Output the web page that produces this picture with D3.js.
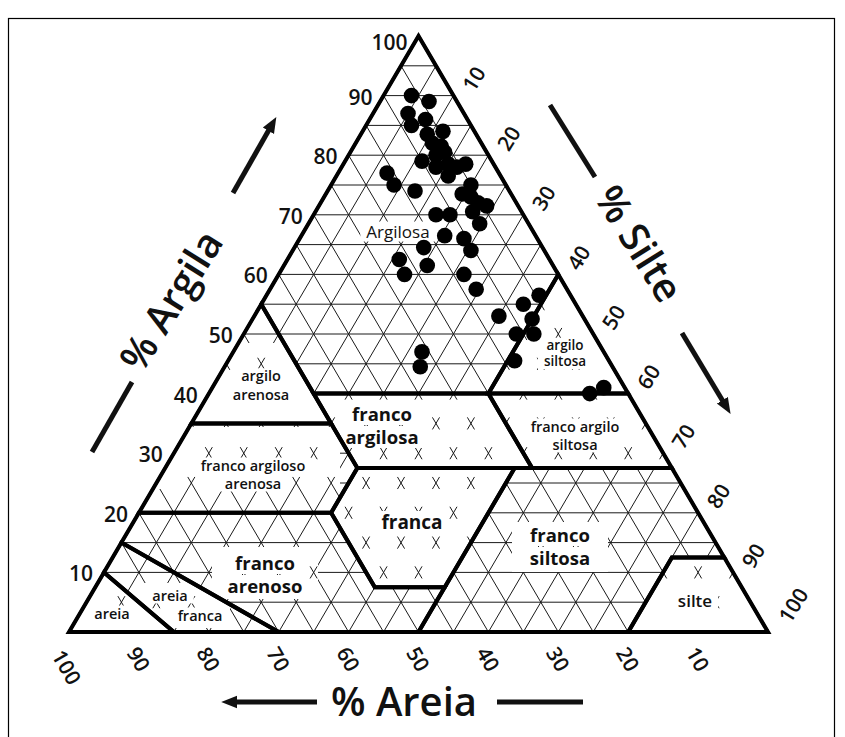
<!DOCTYPE html>
<html>
<head>
<meta charset="utf-8">
<script src="https://cdn.jsdelivr.net/npm/d3@7"></script>
<style>
  body { margin: 0; background: #fff; }
  svg { display: block; font-family: "Open Sans", "DejaVu Sans", sans-serif; }
</style>
</head>
<body>
<script>
// axis ticks (same for the three sides)
const ticks = [10, 20, 30, 40, 50, 60, 70, 80, 90, 100]

// soil samples
const sampleClay = [90, 89, 87, 86, 85, 83.5, 84, 82, 81.5, 80.5, 80, 79, 78, 78.5, 78, 78.5, 76.5, 77, 75, 74,
  75, 73.5, 73, 72, 71.5, 70.5, 68.5, 70, 70, 66.5, 66, 64, 64.5, 62.5, 61.5, 60, 60, 57.5, 56.5, 55,
  53, 52.5, 50, 50, 45.5, 47, 44.5, 40, 41]
const sampleSilt = [4, 7, 5, 8, 6.5, 9.5, 11.5, 11, 12.5, 13.5, 12.5, 11, 13.5, 15, 16.5, 17.5, 16, 7, 9, 12.5,
  20, 19.5, 21, 22.5, 24, 22.5, 24.5, 17.5, 19.5, 20.5, 23.5, 25.5, 18.5, 16, 20.5, 18, 26.5, 29.5, 39, 37.5,
  35, 40, 39, 41.5, 41, 27, 28, 54.5, 56]

// texture classes: polygon vertices as [clay, silt]
const classNames = ['argilosa', 'argilo arenosa', 'franco argiloso arenosa', 'franco argilosa', 'argilo siltosa',
  'franco argilo siltosa', 'franca', 'franco siltosa', 'silte', 'franco arenoso', 'areia franca', 'areia']
const classPolygons = [
  [[100, 0], [55, 0], [40, 15], [40, 40], [60, 40]],
  [[55, 0], [35, 0], [35, 20]],
  [[35, 0], [20, 0], [20, 27.5], [27.5, 27.5], [35, 20]],
  [[40, 15], [35, 20], [27.5, 27.5], [27.5, 52.5], [40, 40]],
  [[60, 40], [40, 40], [40, 60]],
  [[40, 40], [27.5, 52.5], [27.5, 72.5], [40, 60]],
  [[27.5, 27.5], [20, 27.5], [7.5, 40], [7.5, 50], [27.5, 50]],
  [[27.5, 50], [0, 50], [0, 80], [12.5, 80], [12.5, 87.5], [27.5, 72.5]],
  [[12.5, 80], [0, 80], [0, 100], [12.5, 87.5]],
  [[20, 0], [20, 27.5], [7.5, 40], [7.5, 50], [0, 50], [0, 30], [15, 0]],
  [[15, 0], [10, 0], [0, 15], [0, 30]],
  [[10, 0], [0, 0], [0, 15]]
]

const W = 845, H = 737
const svg = d3.select('body').append('svg').attr('width', W).attr('height', H)

const x = d3.scaleLinear().domain([0, 100]).range([69, 768])
const y = d3.scaleLinear().domain([0, 100]).range([632, 36])
const P = (c, s) => [x(s + c / 2), y(c)]
const line = d3.line()

// frame
svg.append('rect').attr('x', 8.5).attr('y', 18.5).attr('width', 826).attr('height', 740)
  .attr('fill', 'none').attr('stroke', '#000').attr('stroke-width', 1.2)

// fine grid, 5 %
const grid = svg.append('g').attr('stroke', '#1a1a1a').attr('stroke-width', 1)
for (let k = 5; k < 100; k += 5) {
  grid.append('path').attr('d', line([P(k, 0), P(k, 100 - k)]))
  grid.append('path').attr('d', line([P(0, k), P(100 - k, k)]))
  grid.append('path').attr('d', line([P(0, 100 - k), P(100 - k, 0)]))
}

// white areas in the classes (whole class or a box), with little x marks left
const erase = [
  { cls: 1, box: [150, 343, 200, 82] },
  { cls: 2, box: [140, 427, 200, 62] },
  { cls: 3, box: null },
  { cls: 4, box: null },
  { cls: 5, box: null },
  { cls: 6, box: null },
  { cls: 8, box: null },
  { cls: 11, box: null },
  { cls: 9, box: [212, 547, 106, 52] },
  { cls: 7, box: [512, 522, 96, 50] },
  { cls: 10, box: [140, 583, 90, 45] }
]
const defs = svg.append('defs')
const unit = (a, b) => { const l = Math.hypot(b[0] - a[0], b[1] - a[1]); return [(b[0] - a[0]) / l, (b[1] - a[1]) / l] }
const u1 = unit(P(0, 0), P(100, 0))
const u2 = unit(P(0, 100), P(100, 0))
const eraseG = svg.append('g')
const marks = svg.append('g').attr('stroke', '#1a1a1a').attr('stroke-width', 1)
erase.forEach((e, i) => {
  const poly = classPolygons[e.cls].map(d => P(d[0], d[1]))
  defs.append('clipPath').attr('id', 'clip' + i).append('path').attr('d', line(poly) + 'Z')
  const g = eraseG.append('g').attr('clip-path', `url(#clip${i})`)
  if (e.box) g.append('rect').attr('x', e.box[0]).attr('y', e.box[1]).attr('width', e.box[2]).attr('height', e.box[3]).attr('fill', '#fff')
  else g.append('path').attr('d', line(poly) + 'Z').attr('fill', '#fff')
  for (let c = 0; c <= 100; c += 5) {
    for (let s = 0; s + c <= 100; s += 5) {
      const p = P(c, s)
      if (!d3.polygonContains(poly, p)) continue
      if (e.box && !(p[0] > e.box[0] && p[0] < e.box[0] + e.box[2] && p[1] > e.box[1] && p[1] < e.box[1] + e.box[3])) continue
      const h = 7
      marks.append('path').attr('clip-path', `url(#clip${i})`)
        .attr('d', line([[p[0] - u1[0] * h, p[1] - u1[1] * h], [p[0] + u1[0] * h, p[1] + u1[1] * h]]) +
          line([[p[0] - u2[0] * h, p[1] - u2[1] * h], [p[0] + u2[0] * h, p[1] + u2[1] * h]]))
    }
  }
})

// class names on small white boxes
const classLabels = [
  { t: ['Argilosa'], x: 398, y: 231, size: 17, w: 400 },
  { t: ['argilo', 'arenosa'], x: 261, y: 385, size: 14.5, w: 600, lh: 18.5 },
  { t: ['franco argiloso', 'arenosa'], x: 253, y: 474, size: 14.5, w: 600, lh: 18 },
  { t: ['franco', 'argilosa'], x: 382, y: 425, size: 18.5, w: 700, lh: 23 },
  { t: ['argilo', 'siltosa'], x: 565, y: 353, size: 13.5, w: 600, lh: 16.5 },
  { t: ['franco argilo', 'siltosa'], x: 575, y: 435, size: 14.5, w: 600, lh: 18 },
  { t: ['franca'], x: 412, y: 522, size: 19, w: 700 },
  { t: ['franco', 'siltosa'], x: 560, y: 546, size: 18.5, w: 700, lh: 23 },
  { t: ['silte'], x: 695, y: 600, size: 17, w: 600 },
  { t: ['franco', 'arenoso'], x: 265, y: 574, size: 18.5, w: 700, lh: 23 },
  { t: ['areia', 'franca'], x: 185, y: 605, size: 14.5, w: 600, lh: 20, dx: [-15, 15] },
  { t: ['areia'], x: 112, y: 613, size: 14.5, w: 600 }
]
const labelG = svg.append('g')
classLabels.forEach(l => {
  const lh = l.lh || 0
  l.t.forEach((t, i) => {
    const bg = labelG.append('rect').attr('fill', '#fff')
    const txt = labelG.append('text')
      .attr('x', l.x + (l.dx ? l.dx[i] : 0))
      .attr('y', l.y + (i - (l.t.length - 1) / 2) * lh)
      .attr('text-anchor', 'middle').attr('dominant-baseline', 'central')
      .attr('font-size', l.size).attr('font-weight', l.w).attr('fill', '#111')
      .text(t)
    const b = txt.node().getBBox()
    bg.attr('x', b.x - 6).attr('y', b.y + 2).attr('width', b.width + 12).attr('height', b.height - 3)
  })
})

// class boundaries
const bounds = svg.append('g').attr('fill', 'none').attr('stroke', '#000').attr('stroke-width', 4)
  .attr('stroke-linejoin', 'miter')
classPolygons.forEach(poly => bounds.append('path').attr('d', line(poly.map(d => P(d[0], d[1]))) + 'Z'))
svg.append('path').attr('d', line([P(100, 0), P(0, 0), P(0, 100)]) + 'Z')
  .attr('fill', 'none').attr('stroke', '#000').attr('stroke-width', 3)

// tick labels
const tickG = svg.append('g').attr('font-size', 21).attr('font-weight', 600).attr('fill', '#111')
ticks.forEach(t => {
  const pl = P(t, 0)
  tickG.append('text').attr('x', pl[0] - 11).attr('y', pl[1] + (t === 100 ? 6 : 1))
    .attr('text-anchor', 'end').attr('dominant-baseline', 'central').text(t)
  const pb = P(0, 100 - t)
  const bx = pb[0] + (t === 100 ? -2 : 0), by = pb[1] + (t === 100 ? 35 : 27)
  tickG.append('text').attr('transform', `translate(${bx},${by}) rotate(60)`)
    .attr('text-anchor', 'middle').attr('dominant-baseline', 'central').text(t)
  const pr = P(100 - t, t)
  const rx = pr[0] + (t === 100 ? 25 : 20), ry = pr[1] + (t === 100 ? -27 : -17)
  tickG.append('text').attr('transform', `translate(${rx},${ry}) rotate(-58)`)
    .attr('text-anchor', 'middle').attr('dominant-baseline', 'central').text(t)
})

// samples
svg.append('g').selectAll('circle')
  .data(d3.zip(sampleClay, sampleSilt))
  .join('circle')
  .attr('cx', d => P(d[0], d[1])[0])
  .attr('cy', d => P(d[0], d[1])[1])
  .attr('r', 7.8)
  .attr('fill', '#000')

// axis titles with arrows
defs.append('marker').attr('id', 'arrow').attr('viewBox', '0 0 10 10')
  .attr('refX', 2).attr('refY', 5).attr('markerWidth', 3.2).attr('markerHeight', 3.2)
  .attr('orient', 'auto').attr('markerUnits', 'strokeWidth')
  .append('path').attr('d', 'M0,1 L10,5 L0,9 Z').attr('fill', '#111')
const arrows = [
  [[92, 452], [132, 382], false],
  [[233, 193], [270, 128], true],
  [[550, 105], [595, 177], false],
  [[682, 333], [724, 403], true],
  [[317, 702], [234, 702], true],
  [[497, 702], [583, 702], false]
]
arrows.forEach(a => {
  svg.append('path').attr('d', line([a[0], a[1]]))
    .attr('stroke', '#111').attr('stroke-width', 5)
    .attr('marker-end', a[2] ? 'url(#arrow)' : null)
})
const titles = [
  { t: '% Argila', x: 170, y: 300, r: -58 },
  { t: '% Silte', x: 640, y: 243, r: 58 },
  { t: '% Areia', x: 404, y: 700, r: 0 }
]
titles.forEach(d => {
  svg.append('text').attr('transform', `translate(${d.x},${d.y}) rotate(${d.r})`)
    .attr('text-anchor', 'middle').attr('dominant-baseline', 'central')
    .attr('font-size', 40).attr('font-weight', 600).attr('fill', '#111')
    .text(d.t)
})
</script>
</body>
</html>
